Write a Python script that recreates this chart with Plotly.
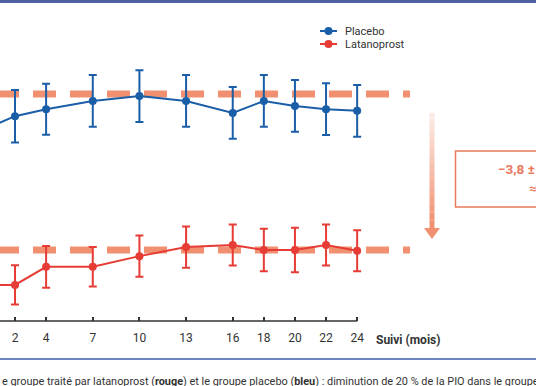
import plotly.graph_objects as go

# ---------------- data ----------------
months = [0, 2, 4, 7, 10, 13, 16, 18, 20, 22, 24]
tick_labels = ["0", "2", "4", "7", "10", "13", "16", "18", "20", "22", "24"]

placebo = [18.13, 18.46, 18.63, 18.83, 18.95, 18.83, 18.54, 18.83, 18.71, 18.63, 18.59]
placebo_err = [0.63, 0.64, 0.62, 0.63, 0.63, 0.63, 0.63, 0.63, 0.63, 0.63, 0.63]

latanoprost = [14.35, 14.35, 14.79, 14.79, 15.05, 15.27, 15.32, 15.20, 15.20, 15.32, 15.18]
latanoprost_err = [0.50, 0.48, 0.51, 0.48, 0.50, 0.50, 0.50, 0.52, 0.54, 0.50, 0.50]

ref_placebo = 19.0
ref_latanoprost = 15.2

# ---------------- figure geometry ----------------
W, H = 536, 386
PLOT_H = 321  # pixel height of plot area (x axis at its bottom)


def xp(px):
    return px / W


def yp(py):
    return 1 - py / PLOT_H


BLUE = "#1b5ea8"
RED = "#e63c35"
SALMON = "#f09070"
BOX = "#ea7a5e"
TXT = "#333333"
FONT = "Roboto"

fig = go.Figure()

fig.add_trace(go.Scatter(
    x=months, y=placebo, mode="lines+markers", name="Placebo",
    line=dict(color=BLUE, width=2), marker=dict(color=BLUE, size=8),
    error_y=dict(type="data", array=placebo_err, color=BLUE, thickness=2, width=4),
    showlegend=False,
))
fig.add_trace(go.Scatter(
    x=months, y=latanoprost, mode="lines+markers", name="Latanoprost",
    line=dict(color=RED, width=2), marker=dict(color=RED, size=8),
    error_y=dict(type="data", array=latanoprost_err, color=RED, thickness=2, width=4),
    showlegend=False,
))

shapes = []
# dashed reference lines
for yv in (ref_placebo, ref_latanoprost):
    shapes.append(dict(type="line", xref="x", yref="y", x0=0.778, x1=27.4, y0=yv, y1=yv,
                       line=dict(color=SALMON, width=7, dash="23px,14px"), layer="below"))

# x axis line
shapes.append(dict(type="line", xref="x", yref="paper", x0=0, x1=24, y0=0, y1=0,
                   line=dict(color=TXT, width=1.5)))

# top border and bottom separator
shapes.append(dict(type="rect", xref="paper", yref="paper", x0=-0.01, x1=1.01, y0=yp(-1), y1=yp(3),
                   fillcolor="#4e5fa3", line=dict(width=0), layer="above"))
shapes.append(dict(type="line", xref="paper", yref="paper", x0=-0.01, x1=1.01, y0=yp(359), y1=yp(359),
                   line=dict(color="#7083c2", width=2)))

# arrow with gradient shaft
top, bottom = 113, 229
n = 14
for i in range(n):
    a = top + (bottom - top) * i / n
    b = top + (bottom - top) * (i + 1) / n
    op = 0.12 + 0.88 * (i + 1) / n
    shapes.append(dict(type="line", xref="paper", yref="paper", x0=xp(432), x1=xp(432),
                       y0=yp(a), y1=yp(b), line=dict(color=SALMON, width=5), opacity=op))
shapes.append(dict(type="path", xref="paper", yref="paper",
                   path=f"M {xp(424)},{yp(228)} L {xp(440)},{yp(228)} L {xp(432)},{yp(239)} Z",
                   fillcolor=SALMON, line=dict(width=0)))

# result box
shapes.append(dict(type="rect", xref="paper", yref="paper", x0=xp(455.5), x1=xp(640),
                   y0=yp(151), y1=yp(207), line=dict(color=BOX, width=1.5)))

# manual legend
for py, col in ((31, BLUE), (44, RED)):
    shapes.append(dict(type="line", xref="paper", yref="paper", x0=xp(320), x1=xp(337),
                       y0=yp(py), y1=yp(py), line=dict(color=col, width=2)))
    shapes.append(dict(type="circle", xref="paper", yref="paper", x0=xp(324.5), x1=xp(332.5),
                       y0=yp(py - 4), y1=yp(py + 4), fillcolor=col, line=dict(width=0)))

annotations = [
    dict(text="Placebo", x=xp(343), y=yp(31), xanchor="left", yanchor="middle"),
    dict(text="Latanoprost", x=xp(343), y=yp(44), xanchor="left", yanchor="middle"),
    dict(text="<b>Suivi (mois)</b>", x=xp(374), y=yp(340), xanchor="left", yanchor="middle",
         font=dict(size=12, color=TXT, family=FONT)),
    dict(text="<b>−3,8 ±</b>", x=xp(496), y=yp(169), xanchor="left", yanchor="middle",
         font=dict(size=13.5, color=BOX, family=FONT)),
    dict(text="<b>≈</b>", x=xp(527), y=yp(189), xanchor="left", yanchor="middle",
         font=dict(size=13, color=BOX, family=FONT)),
    dict(text="e groupe traité par latanoprost (<b>rouge</b>) et le groupe placebo (<b>bleu</b>) : "
              "diminution de 20 % de la PIO dans le groupe",
         x=xp(0), y=yp(381), xanchor="left", yanchor="middle",
         font=dict(size=10.9, color=TXT, family=FONT)),
]
for a in annotations:
    a.setdefault("font", dict(size=11, color=TXT, family=FONT))
    a.update(xref="paper", yref="paper", showarrow=False)

fig.update_layout(
    width=W, height=H,
    margin=dict(l=0, r=0, t=0, b=H - PLOT_H, pad=0),
    paper_bgcolor="white", plot_bgcolor="white",
    shapes=shapes, annotations=annotations,
    xaxis=dict(range=[1.035, 35.5], tickvals=months, ticktext=tick_labels,
               ticks="inside", ticklen=4, tickwidth=1.5, tickcolor=TXT,
               showline=False, showgrid=False, zeroline=False,
               tickfont=dict(size=12, color=TXT, family=FONT), ticklabelstandoff=8),
    yaxis=dict(range=[13.47, 21.29], visible=False, showgrid=False, zeroline=False),
    font=dict(family=FONT),
)

post = (
    "document.body.style.margin='0';document.body.style.padding='0';"
    "document.documentElement.style.overflow='hidden';"
    "var d=document.getElementById('{plot_id}');"
    "d.style.position='fixed';d.style.top='0px';d.style.left='0px';"
    "window.scrollTo(0,0);"
)
fig.write_html("out.html", config={"displayModeBar": False}, post_script=post)
